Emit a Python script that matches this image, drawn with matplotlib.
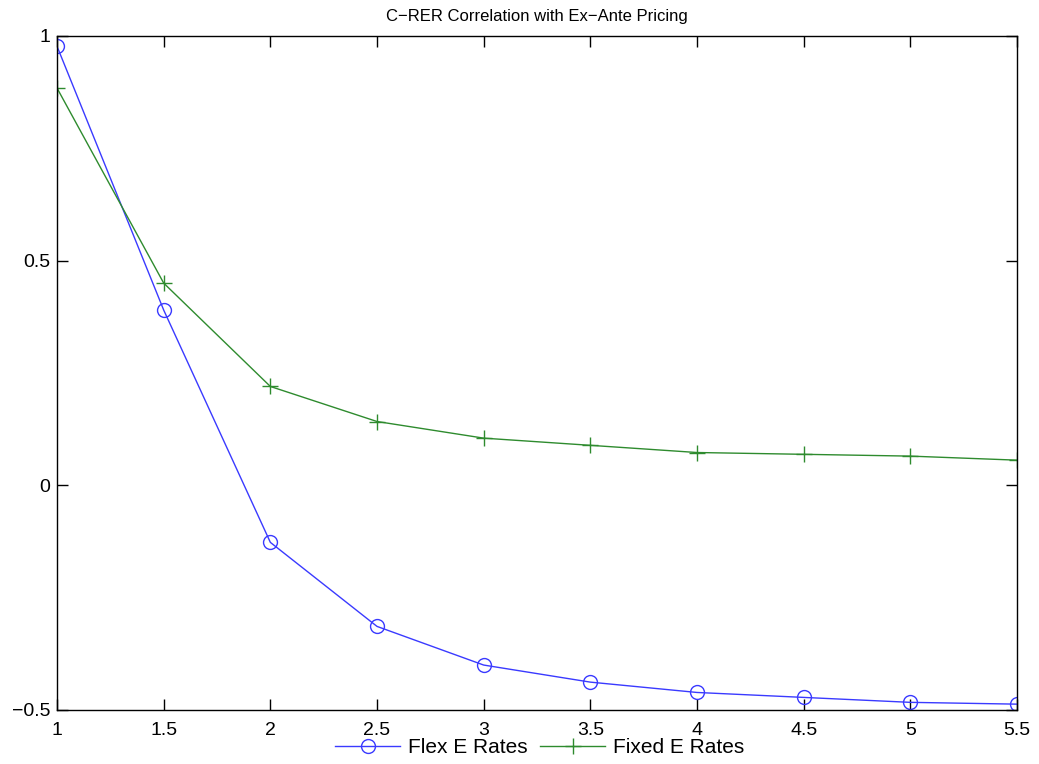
import matplotlib
matplotlib.use('Agg')
import matplotlib.pyplot as plt

x_vals = [1, 1.5, 2, 2.5, 3, 3.5, 4, 4.5, 5, 5.5]
flex = [0.977, 0.39, -0.127, -0.314, -0.40, -0.438, -0.461, -0.472, -0.483, -0.487]
fixed = [0.884, 0.45, 0.22, 0.142, 0.105, 0.089, 0.073, 0.069, 0.065, 0.056]

x_ticks = [1, 1.5, 2, 2.5, 3, 3.5, 4, 4.5, 5, 5.5]
y_ticks = [-0.5, 0, 0.5, 1]

plt.rcParams['font.family'] = ['Liberation Sans', 'DejaVu Sans']

fig = plt.figure(figsize=(10.39, 7.64), dpi=100)
ax = fig.add_axes([0.0549, 0.0707, 0.9239, 0.8822])

ax.plot(x_vals, flex, color='#3a3aff', lw=1.0, marker='o', ms=10, mfc='none',
        mec='#3a3aff', mew=1.0, label='Flex E Rates')
ax.plot(x_vals, fixed, color='#2e8b2e', lw=1.0, marker='+', ms=12, mew=1.0,
        label='Fixed E Rates')

ax.set_xlim(1, 5.5)
ax.set_ylim(-0.5, 1)
ax.set_xticks(x_ticks)
ax.set_xticklabels([f'{t:g}' for t in x_ticks])
ax.set_yticks(y_ticks)
ax.set_yticklabels([f'{t:g}'.replace('-', '\u2212') for t in y_ticks])
ax.tick_params(direction='in', top=True, right=True, length=8, width=1,
               labelsize=14)
ax.tick_params(axis='x', pad=9)
ax.tick_params(axis='y', pad=5)
for s in ax.spines.values():
    s.set_linewidth(1.0)

ax.set_title('C\u2212RER Correlation with Ex\u2212Ante Pricing', fontsize=12, pad=11)

ax.legend(loc='center', bbox_to_anchor=(0.503, -0.056), ncol=2, frameon=False,
          fontsize=15, handlelength=3.1, handletextpad=0.4, columnspacing=0.6,
          borderpad=0, borderaxespad=0)

fig.savefig('out.png', dpi=100)
